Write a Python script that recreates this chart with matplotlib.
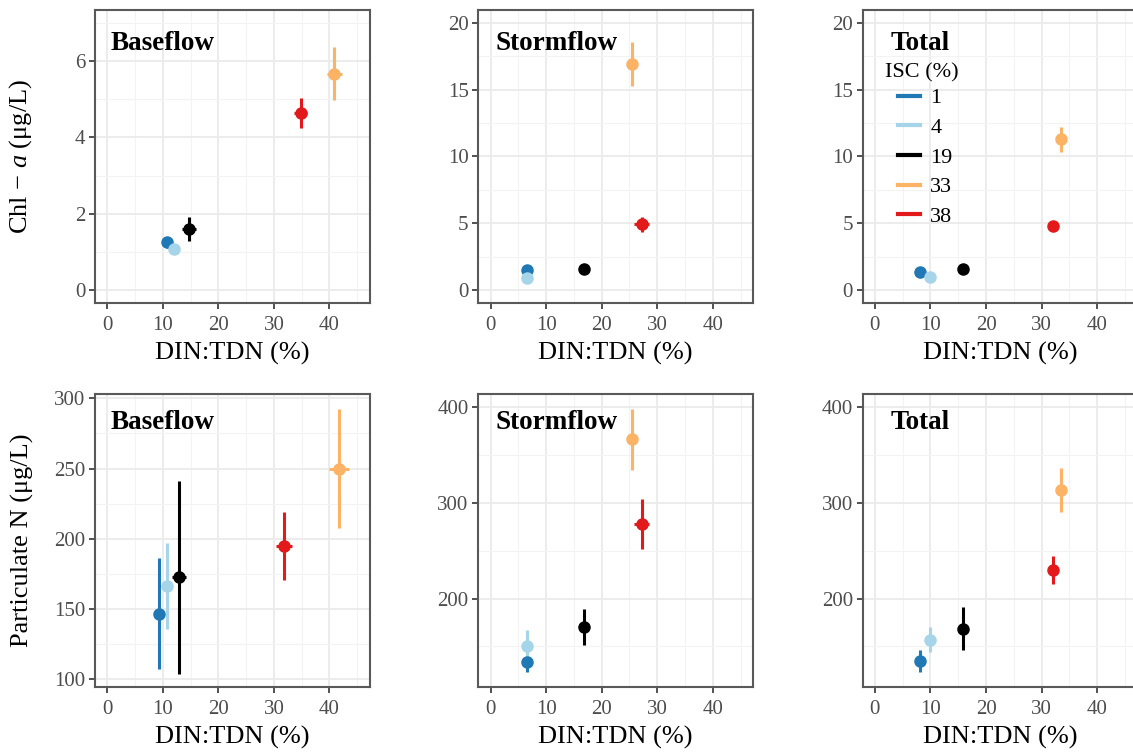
import matplotlib
matplotlib.use("Agg")
import matplotlib.pyplot as plt
from matplotlib.lines import Line2D
from matplotlib.ticker import MultipleLocator

plt.rcParams['font.family'] = ['Liberation Serif', 'DejaVu Serif']
plt.rcParams['mathtext.fontset'] = 'custom'
plt.rcParams['mathtext.rm'] = 'Liberation Serif'
plt.rcParams['mathtext.it'] = 'Liberation Serif:italic'

# ---- data ----
isc_levels = ["1", "4", "19", "33", "38"]
colors = ["#2078b4", "#a6d5ea", "#000000", "#fdb366", "#e31a1c"]

# Chl-a panels (x = DIN:TDN %, y = Chl-a)
chl_base_x = [10.7, 12.1, 14.7, 40.9, 34.8]
chl_base_xerr = [0.5, 0.4, 1.3, 1.4, 1.2]
chl_base_y = [1.25, 1.07, 1.60, 5.67, 4.65]
chl_base_yerr = [0.15, 0.10, 0.31, 0.69, 0.39]

chl_storm_x = [6.6, 6.6, 16.75, 25.5, 27.2]
chl_storm_xerr = [0.3, 0.3, 0.7, 0.6, 1.3]
chl_storm_y = [1.50, 0.87, 1.55, 16.9, 4.92]
chl_storm_yerr = [0.15, 0.10, 0.20, 1.63, 0.55]

chl_total_x = [8.1, 9.9, 15.8, 33.4, 32.0]
chl_total_xerr = [0.3, 0.3, 0.4, 0.4, 0.5]
chl_total_y = [1.37, 1.00, 1.55, 11.28, 4.79]
chl_total_yerr = [0.10, 0.10, 0.12, 0.92, 0.15]

# Particulate N panels
pn_base_x = [9.4, 10.7, 12.9, 41.65, 31.8]
pn_base_xerr = [0.3, 0.3, 1.3, 1.8, 1.5]
pn_base_y = [146.4, 166.5, 172.4, 250.0, 194.8]
pn_base_yerr = [39.5, 30.6, 68.7, 42.5, 24.5]

pn_storm_x = [6.6, 6.6, 16.75, 25.5, 27.2]
pn_storm_xerr = [0.3, 0.3, 0.7, 0.8, 1.4]
pn_storm_y = [133.6, 150.8, 170.0, 366.4, 278.0]
pn_storm_yerr = [11.0, 16.5, 18.7, 32.0, 26.0]

pn_total_x = [8.1, 9.9, 15.8, 33.4, 32.0]
pn_total_xerr = [0.3, 0.3, 0.5, 0.6, 0.4]
pn_total_y = [134.6, 157.0, 168.4, 313.9, 229.7]
pn_total_yerr = [11.0, 13.3, 22.7, 23.0, 14.3]

x_ticks = [0, 10, 20, 30, 40]

W, H = 1133, 753
fig = plt.figure(figsize=(W / 100, H / 100), dpi=100)

col_left = [95, 478.3, 862.7]
ax_w = 274.5
row_top = [10, 394]
ax_h = 293

grid_major = "#ebebeb"
tick_gray = "#4d4d4d"
border = "#595959"

title_x = [0.057, 0.063, 0.103]
title_y = [0.862, 0.88]

panels = [
    # row, col, x, xerr, y, yerr, title, ylim, ymajor
    (0, 0, chl_base_x, chl_base_xerr, chl_base_y, chl_base_yerr, "Baseflow", (-0.34, 7.34), 2),
    (0, 1, chl_storm_x, chl_storm_xerr, chl_storm_y, chl_storm_yerr, "Stormflow", (-0.97, 20.95), 5),
    (0, 2, chl_total_x, chl_total_xerr, chl_total_y, chl_total_yerr, "Total", (-0.97, 20.95), 5),
    (1, 0, pn_base_x, pn_base_xerr, pn_base_y, pn_base_yerr, "Baseflow", (94.3, 303.1), 50),
    (1, 1, pn_storm_x, pn_storm_xerr, pn_storm_y, pn_storm_yerr, "Stormflow", (107.4, 414.0), 100),
    (1, 2, pn_total_x, pn_total_xerr, pn_total_y, pn_total_yerr, "Total", (107.4, 414.0), 100),
]

axes = {}
for (r, c, xs, xe, ys, ye, title, ylim, ymaj) in panels:
    left = col_left[c] / W
    bottom = 1 - (row_top[r] + ax_h) / H
    ax = fig.add_axes([left, bottom, ax_w / W, ax_h / H])
    axes[(r, c)] = ax
    ax.set_facecolor("white")
    ax.set_xlim(-2.2, 47.2)
    ax.set_ylim(*ylim)
    ax.set_xticks(x_ticks)
    ax.xaxis.set_minor_locator(MultipleLocator(5))
    ax.yaxis.set_major_locator(MultipleLocator(ymaj))
    ax.yaxis.set_minor_locator(MultipleLocator(ymaj / 2))
    ax.grid(True, which="major", color=grid_major, lw=1.3, zorder=0)
    ax.grid(True, which="minor", color="#f3f3f3", lw=0.8, zorder=0)
    ax.set_axisbelow(True)
    for sp in ax.spines.values():
        sp.set_color(border)
        sp.set_linewidth(1.5)
    ax.tick_params(which="major", length=4, width=1.2, color="#333333",
                   labelsize=15, labelcolor=tick_gray)
    ax.tick_params(axis="x", which="major", pad=5)
    ax.tick_params(axis="y", which="major", pad=3)
    ax.tick_params(which="minor", length=0)
    for i in range(len(isc_levels)):
        ax.errorbar(xs[i], ys[i], xerr=xe[i], yerr=ye[i], fmt="o",
                    color=colors[i], ms=8, elinewidth=2.2, capsize=0, zorder=3)
    ax.text(title_x[c], title_y[r], title, transform=ax.transAxes,
            fontsize=19.5, fontweight="bold", va="baseline", ha="left", color="black")
    ax.set_xlabel("DIN:TDN (%)", fontsize=19, labelpad=5)

axes[(0, 0)].set_ylabel(r"Chl $-$ $\mathit{a}$ (μg/L)", fontsize=19)
axes[(1, 0)].set_ylabel("Particulate N (μg/L)", fontsize=19)
axes[(0, 0)].yaxis.set_label_coords(-0.222, 0.5)
axes[(1, 0)].yaxis.set_label_coords(-0.222, 0.5)

lax = axes[(0, 2)]
handles = [Line2D([0], [0], color=col, lw=3) for col in colors]
leg = lax.legend(handles, isc_levels, loc="upper left",
                 bbox_to_anchor=(0.129, 0.734), frameon=False, fontsize=16,
                 handlelength=1.0, labelspacing=0.41, handletextpad=0.45,
                 borderaxespad=0, borderpad=0)
lax.text(0.081, 0.768, "ISC (%)", transform=lax.transAxes, fontsize=16,
         va="baseline", ha="left", color="black")

fig.savefig("out.png", dpi=100)
